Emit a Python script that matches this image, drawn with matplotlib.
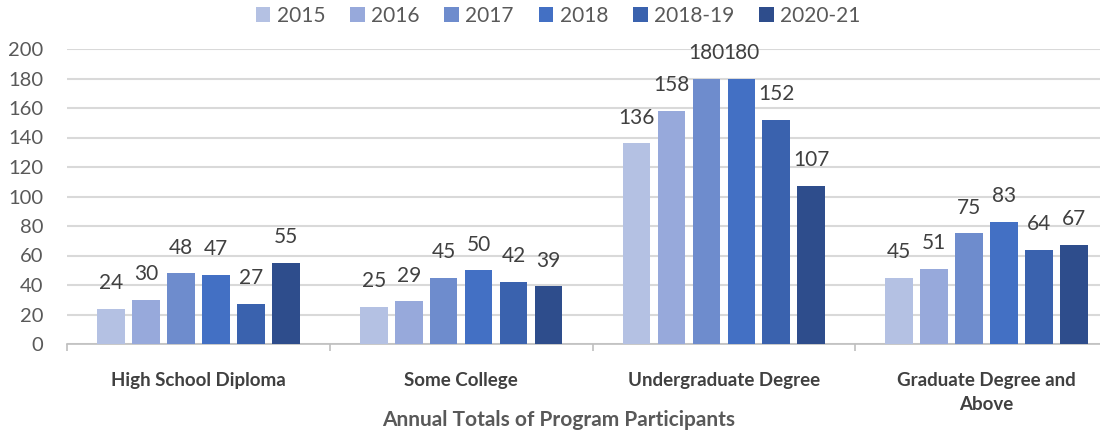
import matplotlib
matplotlib.use("Agg")
import matplotlib.pyplot as plt
import numpy as np

categories = ["High School Diploma", "Some College", "Undergraduate Degree", "Graduate Degree and\nAbove"]
series = ["2015", "2016", "2017", "2018", "2018-19", "2020-21"]
v2015 = [24, 25, 136, 45]
v2016 = [30, 29, 158, 51]
v2017 = [48, 45, 180, 75]
v2018 = [47, 50, 180, 83]
v2018_19 = [27, 42, 152, 64]
v2020_21 = [55, 39, 107, 67]
values = [v2015, v2016, v2017, v2018, v2018_19, v2020_21]
colors = ["#B4C1E3", "#97A9DB", "#6E8CCD", "#4370C4", "#3A62AE", "#2E4D8C"]
yticks = [0, 20, 40, 60, 80, 100, 120, 140, 160, 180, 200]
title = "Annual Totals of Program Participants"

plt.rcParams['font.family'] = ['Lato', 'DejaVu Sans']
W, H = 1100, 434
fig = plt.figure(figsize=(W/100, H/100), dpi=100)
ax = fig.add_axes([67/W, (H-344)/H, (1118-67)/W, (344-49)/H])

x = np.arange(len(categories))
pitch = 35/263
width = 27.7/263
for i, (s, vals, c) in enumerate(zip(series, values, colors)):
    pos = x + (i - 2.5) * pitch
    bars = ax.bar(pos, vals, width, color=c, label=s, zorder=3)
    for b, v in zip(bars, vals):
        ax.annotate(str(v), (b.get_x() + b.get_width()/2, v), xytext=(0, 18.5),
                    textcoords='offset points', ha='center', va='center',
                    fontsize=15, color='#404040', zorder=4)

ax.set_xlim(-0.5, len(categories) - 0.5)
ax.set_ylim(0, 200)
ax.set_yticks(yticks)
ax.yaxis.grid(True, color='#D9D9D9', linewidth=1.5, zorder=0)
ax.set_axisbelow(True)
for sp in ['top', 'right', 'left']:
    ax.spines[sp].set_visible(False)
ax.spines['bottom'].set_color('#BFBFBF')
ax.spines['bottom'].set_linewidth(1.2)
ax.tick_params(axis='y', length=0, labelsize=14.5, labelcolor='#595959', pad=17)
ax.set_xticks(x)
ax.set_xticklabels(categories, fontsize=13.5, fontweight='bold', color='#404040', linespacing=1.55)
ax.tick_params(axis='x', which='major', length=0, pad=20)
ax.set_xticks(np.arange(-0.5, len(categories)), minor=True)
ax.tick_params(axis='x', which='minor', length=5, color='#BFBFBF', width=1.2)

fig.text(559/W, 1 - 420/H, title, ha='center', va='center', fontsize=15,
         fontweight='bold', color='#595959')

leg = fig.legend(loc='center', bbox_to_anchor=(558/W, 1 - 16/H), ncol=6, frameon=False,
                 fontsize=15, handlelength=0.7, handleheight=0.7, handletextpad=0.3,
                 columnspacing=1.2, labelcolor='#595959')

fig.savefig("out.png", dpi=100)
